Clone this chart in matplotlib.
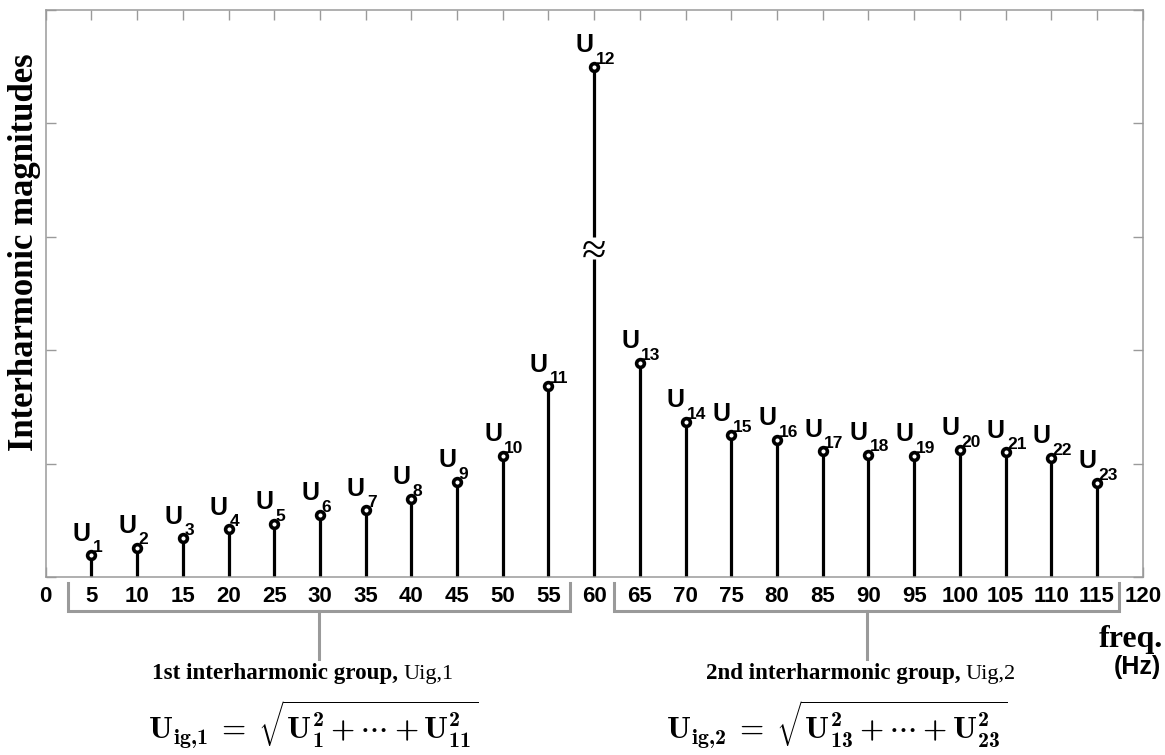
#! /usr/bin/env python3
"""
Interharmonic spectrum: stems U1..U23 around the 60 Hz fundamental,
with the two interharmonic groups marked under the frequency axis.
"""

import matplotlib
matplotlib.use("Agg")
import matplotlib.pyplot as plt

# frequency of each component (Hz) and its magnitude (arbitrary units)
freqs = [5, 10, 15, 20, 25, 30, 35, 40, 45, 50, 55, 60,
         65, 70, 75, 80, 85, 90, 95, 100, 105, 110, 115]
mags = [0.19, 0.26, 0.34, 0.42, 0.47, 0.55, 0.59, 0.69, 0.84, 1.07, 1.68, 4.50,
        1.89, 1.37, 1.25, 1.21, 1.11, 1.08, 1.07, 1.12, 1.10, 1.05, 0.83]
names = [str(i) for i in range(1, 24)]

xticks = list(range(0, 121, 5))
yticks = [0, 1, 2, 3, 4, 5]

# the 60 Hz stem is drawn broken at this height
break_at = 2.90
break_gap = 0.10

# bracket spans (Hz) for the two groups
group1 = (2.4, 57.4)
group2 = (62.2, 117.4)

W, H = 1165, 755
GRAY = "#9a9a9a"
SANS = ["Liberation Sans", "DejaVu Sans"]
SERIF = ["Liberation Serif", "DejaVu Serif"]

# bold computer modern for the formulas
plt.rcParams["mathtext.fontset"] = "custom"
plt.rcParams["mathtext.rm"] = "cmb10"
plt.rcParams["mathtext.bf"] = "cmb10"
plt.rcParams["mathtext.it"] = "cmb10"
plt.rcParams["mathtext.fallback"] = "cm"


def px(x, y):
    # pixel position -> figure fraction
    return x / W, 1 - y / H


def main():
    fig = plt.figure(figsize=(W / 100, H / 100), dpi=100)
    ax = fig.add_axes([45.7 / W, 1 - 577 / H, (1142.7 - 45.7) / W, (577 - 10) / H])

    ax.set_xlim(0, 120)
    ax.set_ylim(0, 5)

    # stems
    for f, m in zip(freqs, mags):
        if m > break_at:
            ax.vlines(f, 0, break_at - break_gap, color="black", lw=2.3)
            ax.vlines(f, break_at + break_gap, m, color="black", lw=2.3)
        else:
            ax.vlines(f, 0, m, color="black", lw=2.3)
    ax.plot(freqs, mags, "o", ms=5.6, mfc="white", mec="black", mew=2.6, zorder=3)

    # break mark on the tall stem
    for f, m in zip(freqs, mags):
        if m > break_at:
            ax.text(f, break_at, "≈", ha="center", va="center_baseline",
                    fontsize=32, family=SERIF)

    # U_n labels
    for f, m, n in zip(freqs, mags, names):
        ax.annotate("U", (f, m), xytext=(-0.5, 10.5), textcoords="offset points",
                    ha="right", va="baseline", fontsize=18, fontweight="bold",
                    family=SANS)
        ax.annotate(n, (f, m), xytext=(1, 2.2), textcoords="offset points",
                    ha="left", va="baseline", fontsize=12.5, fontweight="bold",
                    family=SANS)

    # axis styling
    for s in ax.spines.values():
        s.set_color(GRAY)
        s.set_linewidth(1.1)
    ax.set_xticks(xticks)
    ax.set_yticks(yticks)
    ax.set_yticklabels([])
    ax.tick_params(direction="in", length=7.5, width=1.0, color=GRAY,
                   top=True, right=True, bottom=True, left=True)
    ax.tick_params(axis="x", pad=6.5, labelsize=16)
    for lab in ax.get_xticklabels():
        lab.set_fontweight("bold")
        lab.set_family(SANS)

    # group brackets under the axis
    y_top, y_bar, y_stem = -0.055, -0.30, -0.72
    for lo, hi in (group1, group2):
        mid = (lo + hi) / 2
        ax.plot([lo, lo, hi, hi], [y_top, y_bar, y_bar, y_top],
                color=GRAY, lw=2.2, clip_on=False, solid_joinstyle="miter")
        ax.plot([mid, mid], [y_bar, y_stem], color=GRAY, lw=2.2, clip_on=False)

    # y label
    fig.text(*px(25, 252), "Interharmonic magnitudes", rotation=90,
             ha="center", va="center", fontsize=25, fontweight="bold", family=SERIF)

    # x label
    fig.text(*px(1163, 647), "freq.", ha="right", va="baseline",
             fontsize=23, fontweight="bold", family=SERIF)
    fig.text(*px(1161, 674), "(Hz)", ha="right", va="baseline",
             fontsize=18, fontweight="bold", family=SANS)

    # group names
    fig.text(*px(398, 679), "1st interharmonic group,", ha="right", va="baseline",
             fontsize=16.6, fontweight="bold", family=SERIF)
    fig.text(*px(403, 679), "Uig,1", ha="left", va="baseline",
             fontsize=16, family=SERIF)
    fig.text(*px(961, 679), "2nd interharmonic group,", ha="right", va="baseline",
             fontsize=16.6, fontweight="bold", family=SERIF)
    fig.text(*px(966, 679), "Uig,2", ha="left", va="baseline",
             fontsize=16, family=SERIF)

    # group formulas
    fig.text(*px(313, 724),
             r"$\mathbf{U}_{\mathbf{ig{,}1}}\;=\;\sqrt{\mathbf{U}_{\mathbf{1}}^{\mathbf{2}}+\cdots+\mathbf{U}_{\mathbf{11}}^{\mathbf{2}}}$",
             ha="center", va="center", fontsize=22.5)
    fig.text(*px(837, 724),
             r"$\mathbf{U}_{\mathbf{ig{,}2}}\;=\;\sqrt{\mathbf{U}_{\mathbf{13}}^{\mathbf{2}}+\cdots+\mathbf{U}_{\mathbf{23}}^{\mathbf{2}}}$",
             ha="center", va="center", fontsize=22.5)

    fig.savefig("out.png", dpi=100)


if __name__ == "__main__":
    main()
